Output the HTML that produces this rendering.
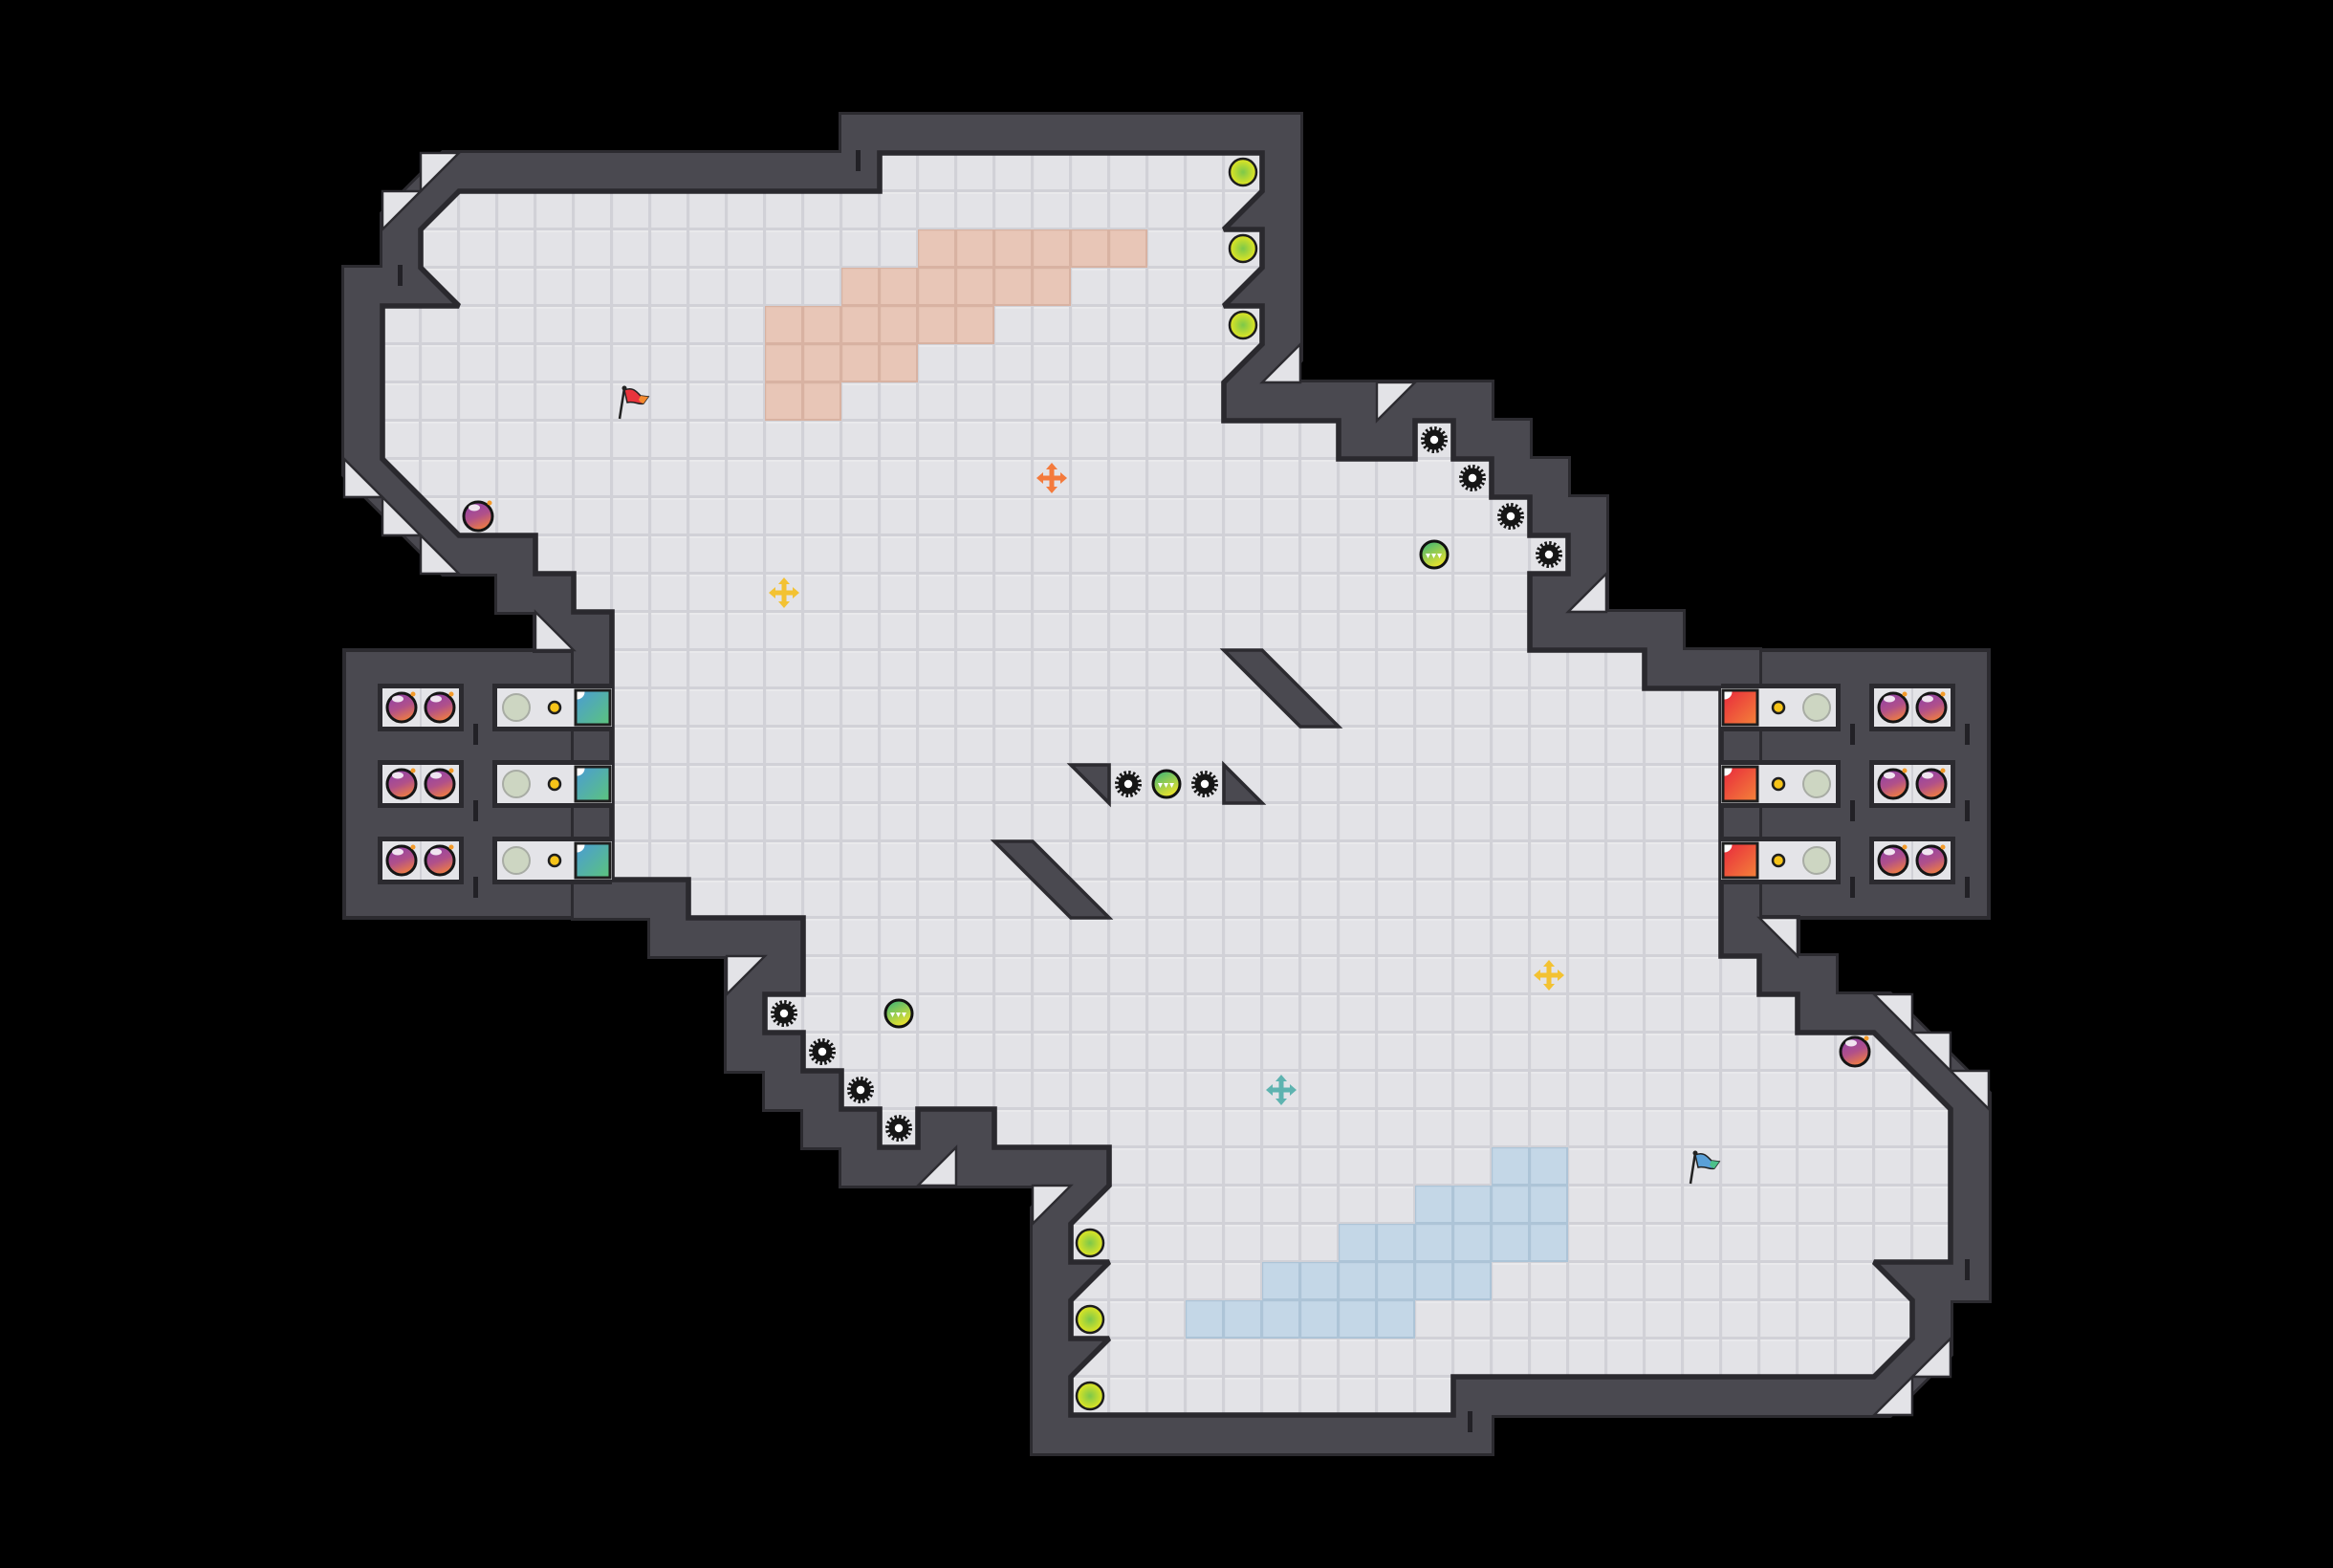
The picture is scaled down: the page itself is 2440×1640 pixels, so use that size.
<!DOCTYPE html>
<html><head><meta charset="utf-8"><style>
html,body{margin:0;padding:0;background:#000;}
svg{display:block;}
</style></head><body>
<svg width="2440" height="1640" viewBox="0 0 2440 1640" xmlns="http://www.w3.org/2000/svg">
<defs>
<pattern id="tile" patternUnits="userSpaceOnUse" width="1" height="1">
<rect width="1" height="1" fill="#d1d1d7"/>
<rect x="0.03" y="0.03" width="0.92" height="0.92" fill="#e3e3e7"/>
<rect x="0.03" y="0.03" width="0.92" height="0.035" fill="#ededf0"/>
</pattern>
<pattern id="sal" patternUnits="userSpaceOnUse" width="1" height="1">
<rect width="1" height="1" fill="#d8b2a2"/>
<rect x="0.03" y="0.03" width="0.92" height="0.92" fill="#e8c6b7"/>
</pattern>
<pattern id="blu" patternUnits="userSpaceOnUse" width="1" height="1">
<rect width="1" height="1" fill="#adc4d7"/>
<rect x="0.03" y="0.03" width="0.92" height="0.92" fill="#c4d7e7"/>
</pattern>
<linearGradient id="gb" x1="0" y1="0" x2="0.4" y2="1"><stop offset="0" stop-color="#8a3fae"/><stop offset="0.6" stop-color="#b0508a"/><stop offset="1" stop-color="#e8784a"/></linearGradient>
<radialGradient id="gl"><stop offset="0" stop-color="#7cc84a"/><stop offset="1" stop-color="#e3e622"/></radialGradient>
<linearGradient id="gg" x1="0" y1="0" x2="0.5" y2="1"><stop offset="0" stop-color="#2fb07c"/><stop offset="1" stop-color="#e8e22e"/></linearGradient>
<linearGradient id="gt" x1="0" y1="0" x2="1" y2="1"><stop offset="0" stop-color="#4a9bd6"/><stop offset="1" stop-color="#5cc47c"/></linearGradient>
<linearGradient id="gr" x1="0" y1="0" x2="1" y2="1"><stop offset="0" stop-color="#e8283c"/><stop offset="1" stop-color="#f4843a"/></linearGradient>
<g id="gear"><circle r="10.5" fill="#161616"/><circle r="12" fill="none" stroke="#161616" stroke-width="4" stroke-dasharray="2.4 2.3"/><circle r="4.2" fill="#fff"/></g>
<g id="bomb"><circle r="15" fill="url(#gb)" stroke="#151515" stroke-width="3"/><ellipse cx="-4" cy="-9" rx="6" ry="3.5" fill="#fff" opacity=".85"/><circle cx="12" cy="-14" r="2.5" fill="#f39a2a"/></g>
<g id="lime"><circle r="14" fill="url(#gl)" stroke="#1d1d1d" stroke-width="2.5"/></g>
<g id="ball"><circle r="14" fill="url(#gg)" stroke="#111" stroke-width="3"/><polygon points="-9,-1 -4,-1 -6.5,4" fill="#fff"/><polygon points="-3,-1 2,-1 -0.5,4" fill="#fff"/><polygon points="3,-1 8,-1 5.5,4" fill="#fff"/></g>
<g id="cross"><rect x="-11" y="-2.5" width="22" height="5"/><rect x="-2.5" y="-11" width="5" height="22"/><polygon points="0,-16 -6,-9 6,-9"/><polygon points="0,16 -6,9 6,9"/><polygon points="-16,0 -9,-6 -9,6"/><polygon points="16,0 9,-6 9,6"/></g>
<g id="grey"><circle r="14" fill="#cdd6c2" stroke="#a8aca4" stroke-width="2"/></g>
<g id="dot"><circle r="6" fill="#f6c419" stroke="#1e1e1e" stroke-width="2.5"/></g>
</defs>

<rect width="2440" height="1640" fill="#000"/>

<rect x="360" y="680" width="300" height="280" fill="#4a4950" stroke="#2c2b30" stroke-width="4"/>
<rect x="1780" y="680" width="300" height="280" fill="#4a4950" stroke="#2c2b30" stroke-width="4"/>

<g transform="scale(40)">
<polygon points="12,5 23,5 23,4 33,4 33,5 32,6 33,6 33,7 32,8 33,8 33,9 32,10 32,11 35,11 35,12 37,12 37,11 38,11 38,12 39,12 39,13 40,13 40,14 41,14 41,15 40,15 40,17 43,17 43,18 45,18 45,25 46,25 46,26 47,26 47,27 49,27 51,29 51,33 49,33 50,34 50,35 49,36 38,36 38,37 28,37 28,36 29,35 28,35 28,34 29,33 28,33 28,32 29,31 29,30 26,30 26,29 24,29 24,30 23,30 23,29 22,29 22,28 21,28 21,27 20,27 20,26 21,26 21,24 18,24 18,23 16,23 16,16 15,16 15,15 14,15 14,14 12,14 10,12 10,8 12,8 11,7 11,6" fill="none" stroke="#2c2b30" stroke-width="2.15" stroke-linejoin="miter" stroke-miterlimit="1.5"/>
<polygon points="12,5 23,5 23,4 33,4 33,5 32,6 33,6 33,7 32,8 33,8 33,9 32,10 32,11 35,11 35,12 37,12 37,11 38,11 38,12 39,12 39,13 40,13 40,14 41,14 41,15 40,15 40,17 43,17 43,18 45,18 45,25 46,25 46,26 47,26 47,27 49,27 51,29 51,33 49,33 50,34 50,35 49,36 38,36 38,37 28,37 28,36 29,35 28,35 28,34 29,33 28,33 28,32 29,31 29,30 26,30 26,29 24,29 24,30 23,30 23,29 22,29 22,28 21,28 21,27 20,27 20,26 21,26 21,24 18,24 18,23 16,23 16,16 15,16 15,15 14,15 14,14 12,14 10,12 10,8 12,8 11,7 11,6" fill="none" stroke="#4a4950" stroke-width="2" stroke-linejoin="miter" stroke-miterlimit="1.5"/>

<g fill="url(#tile)" stroke="#2c2b30" stroke-width="0.06">
<polygon points="11,4 12,4 11,5"/><polygon points="10,5 11,5 10,6"/>
<polygon points="9,12 10,13 9,13"/><polygon points="10,13 11,14 10,14"/><polygon points="11,14 12,15 11,15"/>
<polygon points="14,16 15,17 14,17"/>
<polygon points="34,9 34,10 33,10"/><polygon points="36,10 37,10 36,11"/><polygon points="42,15 42,16 41,16"/>
<polygon points="46,24 47,24 47,25"/><polygon points="49,26 50,26 50,27"/><polygon points="50,27 51,27 51,28"/><polygon points="51,28 52,28 52,29"/>
<polygon points="51,35 51,36 50,36"/><polygon points="50,36 50,37 49,37"/>
<polygon points="27,31 28,31 27,32"/><polygon points="25,30 25,31 24,31"/><polygon points="19,25 20,25 19,26"/>
</g>

<polygon points="12,5 23,5 23,4 33,4 33,5 32,6 33,6 33,7 32,8 33,8 33,9 32,10 32,11 35,11 35,12 37,12 37,11 38,11 38,12 39,12 39,13 40,13 40,14 41,14 41,15 40,15 40,17 43,17 43,18 45,18 45,25 46,25 46,26 47,26 47,27 49,27 51,29 51,33 49,33 50,34 50,35 49,36 38,36 38,37 28,37 28,36 29,35 28,35 28,34 29,33 28,33 28,32 29,31 29,30 26,30 26,29 24,29 24,30 23,30 23,29 22,29 22,28 21,28 21,27 20,27 20,26 21,26 21,24 18,24 18,23 16,23 16,16 15,16 15,15 14,15 14,14 12,14 10,12 10,8 12,8 11,7 11,6" fill="url(#tile)" stroke="#2a292e" stroke-width="0.14" stroke-linejoin="miter" stroke-miterlimit="1.5"/>

<polygon points="24,6 30,6 30,7 28,7 28,8 26,8 26,9 24,9 24,10 22,10 22,11 20,11 20,8 22,8 22,7 24,7" fill="url(#sal)"/>
<polygon points="39,30 41,30 41,33 39,33 39,34 37,34 37,35 31,35 31,34 33,34 33,33 35,33 35,32 37,32 37,31 39,31" fill="url(#blu)"/>

<g fill="#4a4950" stroke="#2c2b30" stroke-width="0.09" stroke-linejoin="miter">
<polygon points="32,17 33,17 35,19 34,19"/>
<polygon points="26,22 27,22 29,24 28,24"/>
<polygon points="28,20 29,20 29,21"/>
<polygon points="32,20 32,21 33,21"/>
</g>
</g>

<g>
<rect x="395" y="715" width="90" height="50" fill="#2b2a2f"/><rect x="400" y="720" width="80" height="40" fill="#e4e4e8"/><rect x="439" y="720" width="2" height="40" fill="#d0d0d6"/>
<rect x="395" y="795" width="90" height="50" fill="#2b2a2f"/><rect x="400" y="800" width="80" height="40" fill="#e4e4e8"/><rect x="439" y="800" width="2" height="40" fill="#d0d0d6"/>
<rect x="395" y="875" width="90" height="50" fill="#2b2a2f"/><rect x="400" y="880" width="80" height="40" fill="#e4e4e8"/><rect x="439" y="880" width="2" height="40" fill="#d0d0d6"/>
<rect x="515" y="715" width="125" height="50" fill="#2b2a2f"/><rect x="520" y="720" width="120" height="40" fill="#e4e4e8"/>
<rect x="515" y="795" width="125" height="50" fill="#2b2a2f"/><rect x="520" y="800" width="120" height="40" fill="#e4e4e8"/>
<rect x="515" y="875" width="125" height="50" fill="#2b2a2f"/><rect x="520" y="880" width="120" height="40" fill="#e4e4e8"/>
<rect x="1800" y="715" width="125" height="50" fill="#2b2a2f"/><rect x="1800" y="720" width="120" height="40" fill="#e4e4e8"/>
<rect x="1800" y="795" width="125" height="50" fill="#2b2a2f"/><rect x="1800" y="800" width="120" height="40" fill="#e4e4e8"/>
<rect x="1800" y="875" width="125" height="50" fill="#2b2a2f"/><rect x="1800" y="880" width="120" height="40" fill="#e4e4e8"/>
<rect x="1955" y="715" width="90" height="50" fill="#2b2a2f"/><rect x="1960" y="720" width="80" height="40" fill="#e4e4e8"/><rect x="1999" y="720" width="2" height="40" fill="#d0d0d6"/>
<rect x="1955" y="795" width="90" height="50" fill="#2b2a2f"/><rect x="1960" y="800" width="80" height="40" fill="#e4e4e8"/><rect x="1999" y="800" width="2" height="40" fill="#d0d0d6"/>
<rect x="1955" y="875" width="90" height="50" fill="#2b2a2f"/><rect x="1960" y="880" width="80" height="40" fill="#e4e4e8"/><rect x="1999" y="880" width="2" height="40" fill="#d0d0d6"/>
</g>

<g fill="#222126">
<rect x="495" y="757" width="5" height="22"/><rect x="495" y="837" width="5" height="22"/><rect x="495" y="917" width="5" height="22"/>
<rect x="1935" y="757" width="5" height="22"/><rect x="1935" y="837" width="5" height="22"/><rect x="1935" y="917" width="5" height="22"/>
<rect x="2055" y="757" width="5" height="22"/><rect x="2055" y="837" width="5" height="22"/><rect x="2055" y="917" width="5" height="22"/>
<rect x="895" y="157" width="5" height="22"/><rect x="416" y="277" width="5" height="22"/>
<rect x="2055" y="1317" width="5" height="22"/><rect x="1535" y="1476" width="5" height="22"/>
</g>

<g>
<use href="#bomb" x="420" y="740"/><use href="#bomb" x="460" y="740"/>
<use href="#bomb" x="420" y="820"/><use href="#bomb" x="460" y="820"/>
<use href="#bomb" x="420" y="900"/><use href="#bomb" x="460" y="900"/>
<use href="#bomb" x="1980" y="740"/><use href="#bomb" x="2020" y="740"/>
<use href="#bomb" x="1980" y="820"/><use href="#bomb" x="2020" y="820"/>
<use href="#bomb" x="1980" y="900"/><use href="#bomb" x="2020" y="900"/>
<use href="#grey" x="540" y="740"/><use href="#grey" x="540" y="820"/><use href="#grey" x="540" y="900"/>
<use href="#grey" x="1900" y="740"/><use href="#grey" x="1900" y="820"/><use href="#grey" x="1900" y="900"/>
<use href="#dot" x="580" y="740"/><use href="#dot" x="580" y="820"/><use href="#dot" x="580" y="900"/>
<use href="#dot" x="1860" y="740"/><use href="#dot" x="1860" y="820"/><use href="#dot" x="1860" y="900"/>
</g>
<g stroke="#1e1e1e" stroke-width="3">
<rect x="602" y="722" width="36" height="36" fill="url(#gt)"/><rect x="602" y="802" width="36" height="36" fill="url(#gt)"/><rect x="602" y="882" width="36" height="36" fill="url(#gt)"/>
<rect x="1802" y="722" width="36" height="36" fill="url(#gr)"/><rect x="1802" y="802" width="36" height="36" fill="url(#gr)"/><rect x="1802" y="882" width="36" height="36" fill="url(#gr)"/>
</g>
<g fill="#fff">
<path d="M603.5,723.5 h8 a8,8 0 0 1 -8,8 z"/><path d="M603.5,803.5 h8 a8,8 0 0 1 -8,8 z"/><path d="M603.5,883.5 h8 a8,8 0 0 1 -8,8 z"/>
<path d="M1803.5,723.5 h8 a8,8 0 0 1 -8,8 z"/><path d="M1803.5,803.5 h8 a8,8 0 0 1 -8,8 z"/><path d="M1803.5,883.5 h8 a8,8 0 0 1 -8,8 z"/>
</g>

<use href="#lime" x="1300" y="180"/><use href="#lime" x="1300" y="260"/><use href="#lime" x="1300" y="340"/>
<use href="#lime" x="1140" y="1300"/><use href="#lime" x="1140" y="1380"/><use href="#lime" x="1140" y="1460"/>
<use href="#gear" x="1500" y="460"/><use href="#gear" x="1540" y="500"/><use href="#gear" x="1580" y="540"/><use href="#gear" x="1620" y="580"/>
<use href="#gear" x="820" y="1060"/><use href="#gear" x="860" y="1100"/><use href="#gear" x="900" y="1140"/><use href="#gear" x="940" y="1180"/>
<use href="#gear" x="1180" y="820"/><use href="#gear" x="1260" y="820"/>
<use href="#ball" x="1500" y="580"/><use href="#ball" x="940" y="1060"/><use href="#ball" x="1220" y="820"/>
<use href="#bomb" x="500" y="540"/><use href="#bomb" x="1940" y="1100"/>
<use href="#cross" x="1100" y="500" fill="#f47a3c"/>
<use href="#cross" x="820" y="620" fill="#f3c232"/>
<use href="#cross" x="1620" y="1020" fill="#f3c232"/>
<use href="#cross" x="1340" y="1140" fill="#5eb3b0"/>

<g transform="translate(660,420)">
<line x1="-12" y1="18" x2="-7" y2="-14" stroke="#222" stroke-width="2.5"/>
<circle cx="-7" cy="-14" r="2.5" fill="#222"/>
<path d="M-7,-12 C2,-16 6,-10 10,-6 L18,-5 L13,2 C8,4 4,-1 -4,1 Z" fill="#e8343c" stroke="#222" stroke-width="1.5"/>
<path d="M10,-6 L18,-5 L13,2 C11,2 9,0 8,-2 Z" fill="#f48a30"/>
</g>
<g transform="translate(1780,1220)">
<line x1="-12" y1="18" x2="-7" y2="-14" stroke="#222" stroke-width="2.5"/>
<circle cx="-7" cy="-14" r="2.5" fill="#222"/>
<path d="M-7,-12 C2,-16 6,-10 10,-6 L18,-5 L13,2 C8,4 4,-1 -4,1 Z" fill="#5aa0d8" stroke="#222" stroke-width="1.5"/>
<path d="M10,-6 L18,-5 L13,2 C11,2 9,0 8,-2 Z" fill="#4cc08a"/>
</g>
</svg>
</body></html>
